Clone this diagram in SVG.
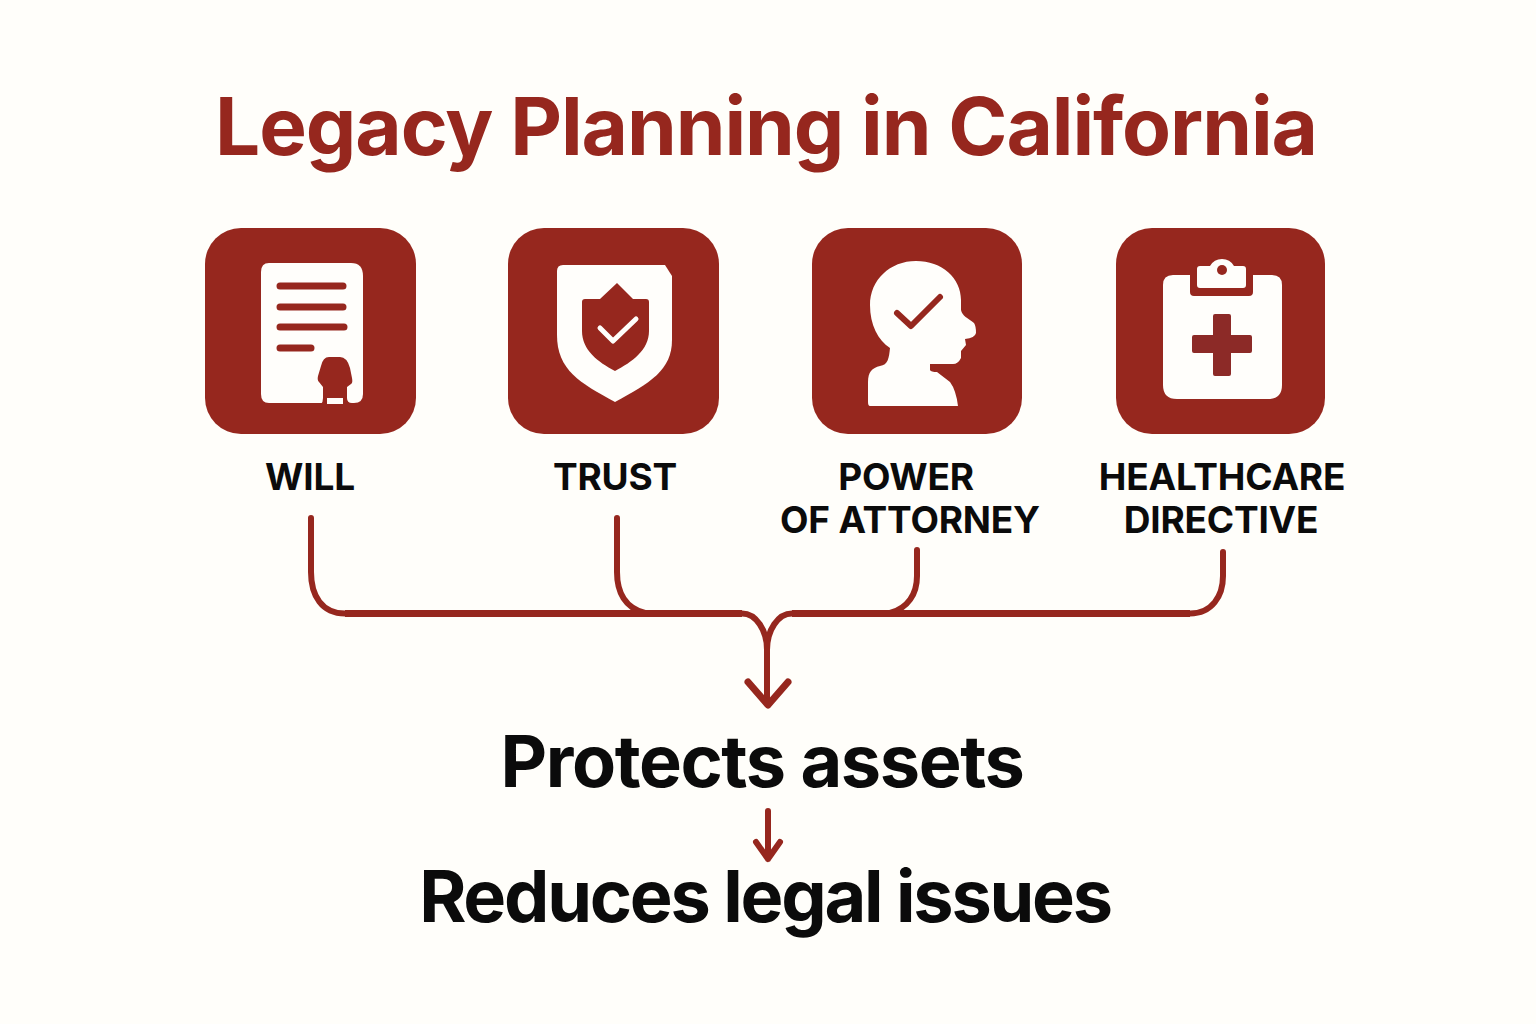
<svg xmlns="http://www.w3.org/2000/svg" width="1536" height="1024" viewBox="0 0 1536 1024">
<style>
text{font-family:Inter,"Liberation Sans",sans-serif;text-anchor:middle;font-weight:650}
.t{font-size:80px;fill:#96271e;letter-spacing:-1.07px}
.l{font-size:37px;fill:#0b0b0b;letter-spacing:-.2px}
.o{font-size:72px;fill:#0b0b0b;letter-spacing:-1.4px}
.o2{font-size:72px;fill:#0b0b0b;letter-spacing:-2.25px}
.box{fill:#96271e}
.w{fill:#fffefb}
.r{fill:#96271e}
.c{fill:none;stroke:#96271e;stroke-width:6;stroke-linecap:round;stroke-linejoin:round}
.bar{fill:none;stroke:#96271e;stroke-width:7}
.ln{fill:none;stroke:#96271e;stroke-width:7;stroke-linecap:round}
</style>
<rect width="1536" height="1024" fill="#fffefa"/>
<text id="title" class="t" x="766" y="155">Legacy Planning in California</text>
<g id="connectors">
<path class="c" d="M311 518V572C311 596 322 613.500 345 613.500H742C756 613.500 767 630 767 650M617 518V572C617 592 625 608 645 613M917 550V576C917 594 908 608 890 613M1223 552V576C1223 596 1212 613.500 1190 613.500H792C778 613.500 767 630 767 650V704"/>
<path class="bar" d="M345 613.500H742M792 613.500H1190"/>
<path class="c" d="M748 682L768 705L788 682" style="stroke-width:7"/>
<path class="c" d="M768 811V859M756 842L768 859L780 842"/>
</g>
<g id="will">
<rect class="box" x="205" y="228" width="211" height="206" rx="36"/>
<path class="w" d="M269 263H351Q363 263 363 276V394Q363 403 354 403H269Q261 403 261 394V272Q261 263 269 263Z"/>
<path class="ln" d="M280 286H343M280 307H343M280 327H344M280 348H311"/>
<path class="r" d="M329 357H340Q347 357 350 368L352 378Q353 383 351 384L347 387V398Q347 403 352 403V404H342V405.500H325V404H321Q323 402 323 398V387L319 382Q317 380 318 376L321 366Q323 357 329 357Z"/>
<rect class="w" x="327" y="398" width="16" height="6"/>
<text class="l" x="310" y="490">WILL</text>
</g>
<g id="trust">
<rect class="box" x="508" y="228" width="211" height="206" rx="36"/>
<path class="w" d="M563 265H665L672 276V340C672 370 650 383 615 402C580 383 557 370 557 335V271Q557 265 563 265Z"/>
<path class="r" d="M617 283L633 299H646Q649 299 649 302V331C649 350 632 362 615 371C598 362 582 350 582 331V302Q582 299 585 299H600Z"/>
<path d="M600 328L613 341L636 319" fill="none" stroke="#fffefb" stroke-width="5" stroke-linecap="round" stroke-linejoin="round"/>
<text class="l" x="615" y="490">TRUST</text>
</g>
<g id="power-of-attorney">
<rect class="box" x="812" y="228" width="210" height="206" rx="36"/>
<path class="w" d="M870 406Q868 406 868 402V382C868 372 872 368 880 366C888 365 889 358 890 348C878 340 870 325 870 305C870 280 890 261 916 261C942 261 961 278 961 300V310C962 316 968 318 974 323Q976 326 976 333Q975 338 965 339L966 345L961 351V358Q958 364 953 364H930V370Q931 372 937 372L950 382Q956 390 958 406Z"/>
<path d="M897 313L911 326L940 297" fill="none" stroke="#96271e" stroke-width="6" stroke-linecap="round" stroke-linejoin="round"/>
<text class="l" x="906" y="490">POWER</text>
<text class="l" x="910" y="533">OF ATTORNEY</text>
</g>
<g id="healthcare-directive">
<rect class="box" x="1116" y="228" width="209" height="206" rx="36"/>
<path class="w" d="M1190 275H1173Q1163 275 1163 285V385Q1163 399 1177 399H1268Q1282 399 1282 385V285Q1282 275 1272 275H1253V292Q1253 296 1249 296H1194Q1190 296 1190 292Z"/>
<path class="w" d="M1197 269Q1197 266 1200 266H1210Q1214 259 1222 259Q1230 259 1234 266H1243Q1246 266 1246 269V285Q1246 288 1243 288H1200Q1197 288 1197 285Z"/>
<circle class="r" cx="1222" cy="270" r="5"/>
<path d="M1215 314H1229Q1231 314 1231 316V335H1250Q1252 335 1252 337V351Q1252 353 1250 353H1231V374Q1231 376 1229 376H1215Q1213 376 1213 374V353H1194Q1192 353 1192 351V337Q1192 335 1194 335H1213V316Q1213 314 1215 314Z" fill="#8c2a27"/>
<text class="l" x="1222" y="490">HEALTHCARE</text>
<text class="l" x="1221" y="533">DIRECTIVE</text>
</g>
<g id="protects-assets"><text class="o" x="762" y="787">Protects assets</text></g>
<g id="reduces-legal-issues"><text class="o2" x="765" y="922">Reduces legal issues</text></g>
</svg>
